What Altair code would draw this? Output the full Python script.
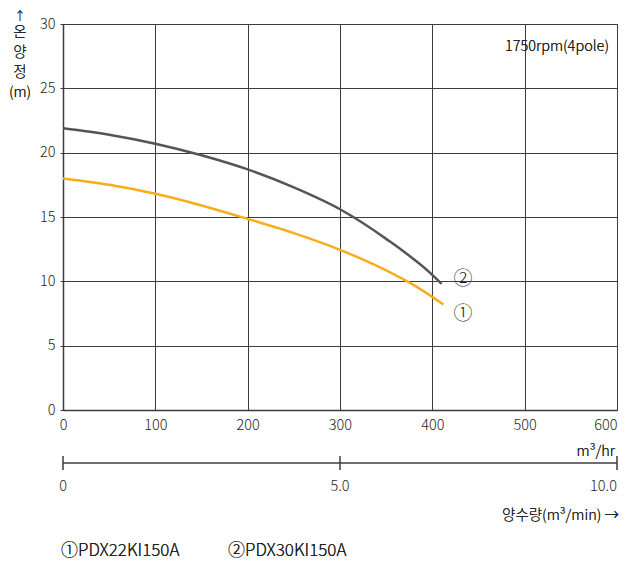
import altair as alt
import pandas as pd

FONT = "Noto Sans CJK KR"
TXT = "#1e1e1e"
GRID = "#3c3c3c"
FW = 300
FS = 14.5

flow = [0, 50, 100, 150, 200, 250, 300, 350, 380, 412]
head1 = [18.0, 17.5, 16.8, 15.9, 14.85, 13.75, 12.45, 10.85, 9.7, 8.2]
flow2 = [0, 50, 100, 150, 200, 250, 300, 350, 400, 410]
head2 = [21.9, 21.4, 20.7, 19.8, 18.7, 17.3, 15.6, 13.3, 10.5, 9.8]
labels_x = [423, 423]
labels_y = [7.5, 10.2]
labels_t = ["①", "②"]
m3min = [0, 5, 10]
m3min_lbl = ["0", "5.0", "10.0"]

df1 = pd.DataFrame({"q": flow, "h": head1, "s": "1"})
df2 = pd.DataFrame({"q": flow2, "h": head2, "s": "2"})
dlab = pd.DataFrame({"q": labels_x, "h": labels_y, "t": labels_t})
dsec = pd.DataFrame({"m": m3min, "t": m3min_lbl})

xs = alt.Scale(domain=[0, 600], nice=False)
ys = alt.Scale(domain=[0, 30], nice=False)

base = alt.Chart(df1).mark_line(color="#F8AE1C", strokeWidth=2.5, interpolate="monotone").encode(
    x=alt.X("q:Q", scale=xs, axis=alt.Axis(
        values=[0, 100, 200, 300, 400, 500, 600], title=None, grid=True, ticks=False,
        labelAlign=alt.expr("datum.value == 600 ? 'right' : 'center'"),
        labelPadding=8)),
    y=alt.Y("h:Q", scale=ys, axis=alt.Axis(
        values=[0, 5, 10, 15, 20, 25, 30], title=None, grid=True, tickSize=3,
        labelPadding=5)),
)
line2 = alt.Chart(df2).mark_line(color="#555555", strokeWidth=2.5, interpolate="monotone").encode(
    x="q:Q", y="h:Q")

lab = alt.Chart(dlab).mark_text(fontSize=19, font=FONT, fontWeight=FW, color=TXT, align="left", baseline="middle").encode(
    x="q:Q", y="h:Q", text="t:N")

rpm = alt.Chart(dlab).mark_text(fontSize=FS, font=FONT, fontWeight=FW, color=TXT, align="right", baseline="middle").encode(
    x=alt.value(546), y=alt.value(23), text=alt.value("1750rpm(4pole)"))

yarrow = alt.Chart(dlab).mark_text(fontSize=12, font=FONT, fontWeight=FW, color=TXT, align="center", baseline="middle").encode(
    x=alt.value(-43), y=alt.value(-7), text=alt.value("↑"))
ytitle = alt.Chart(dlab).mark_text(fontSize=14.5, font=FONT, fontWeight=FW, color=TXT, align="center", baseline="top",
                                   lineBreak="\n", lineHeight=20).encode(
    x=alt.value(-43), y=alt.value(2), text=alt.value("온\n양\n정\n(m)"))

sec = alt.Chart(dsec).transform_calculate(hr="datum.m * 60")
sec_line = sec.mark_rule(color=GRID, strokeWidth=1.5).encode(
    x=alt.X("min(hr):Q"), x2="max(hr):Q", y=alt.value(439))
sec_ticks = sec.mark_rule(color=GRID, strokeWidth=1.5).encode(
    x="hr:Q", y=alt.value(432), y2=alt.value(446))
sec_lbl1 = sec.transform_filter("datum.m < 10").mark_text(fontSize=FS, font=FONT, fontWeight=FW, color=TXT, align="center", baseline="middle").encode(
    x="hr:Q", y=alt.value(463), text="t:N")
sec_lbl2 = sec.transform_filter("datum.m >= 10").mark_text(fontSize=FS, font=FONT, fontWeight=FW, color=TXT, align="right", baseline="middle").encode(
    x="hr:Q", y=alt.value(463), text="t:N")

unit_hr = alt.Chart(dlab).mark_text(fontSize=FS, font=FONT, fontWeight=FW, color=TXT, align="right", baseline="middle").encode(
    x=alt.value(552), y=alt.value(428), text=alt.value("m³/hr"))
unit_min = alt.Chart(dlab).mark_text(fontSize=FS, font=FONT, fontWeight=FW, color=TXT, align="right", baseline="middle").encode(
    x=alt.value(556), y=alt.value(492), text=alt.value("양수량(m³/min) →"))
leg1 = alt.Chart(dlab).mark_text(fontSize=17, font=FONT, fontWeight=FW, color=TXT, align="left", baseline="middle").encode(
    x=alt.value(-2), y=alt.value(527), text=alt.value("①PDX22KI150A"))
leg2 = alt.Chart(dlab).mark_text(fontSize=17, font=FONT, fontWeight=FW, color=TXT, align="left", baseline="middle").encode(
    x=alt.value(165), y=alt.value(527), text=alt.value("②PDX30KI150A"))

chart = alt.layer(base, line2, lab, rpm, yarrow, ytitle, sec_line, sec_ticks, sec_lbl1, sec_lbl2,
                  unit_hr, unit_min, leg1, leg2).properties(
    width=554, height=386,
    autosize=alt.AutoSizeParams(type="none"),
    padding={"left": 55, "top": 16, "right": 2, "bottom": 160},
).configure_axis(
    gridColor=GRID, gridWidth=1, gridOpacity=1, domainColor=GRID, domainWidth=1.5,
    tickColor=GRID, labelFont=FONT, labelFontSize=FS, labelFontWeight=FW, labelColor=TXT,
).configure_view(stroke=GRID, strokeWidth=1)

chart.save("out.html", embed_options={"renderer": "svg", "actions": False})
